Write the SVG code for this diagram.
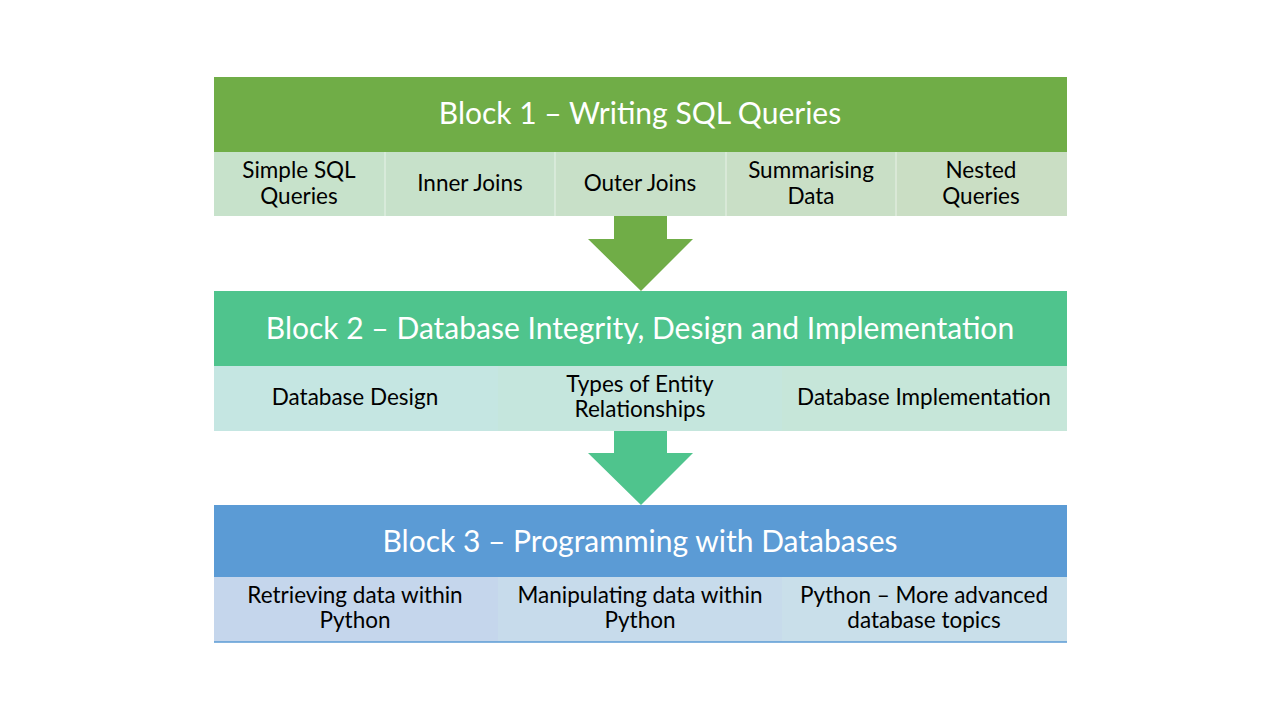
<svg xmlns="http://www.w3.org/2000/svg" width="1280" height="720" viewBox="0 0 1280 720">
<style>
.hd{font-family:Lato,"Open Sans",sans-serif;font-size:30px;fill:#ffffff;text-anchor:middle}
.sb{font-family:Lato,"Open Sans",sans-serif;font-size:22.5px;fill:#000000;text-anchor:middle}
.sep{stroke:#ffffff;stroke-width:1;stroke-opacity:0.6}
</style>
<rect width="1280" height="720" fill="#ffffff"/>
<g id="connectors">
<polygon points="614,216 667,216 667,239 693,239 641,291 588,239 614,239" fill="#70AD47"/>
<polygon points="614,431 667,431 667,453 693,453 641,505 588,453 614,453" fill="#4FC48D"/>
</g>
<g id="block1">
<rect x="214" y="77" width="853" height="75" fill="#70AD47"/>
<text class="hd" x="640" y="124">Block 1 – Writing SQL Queries</text>
</g>
<g id="b1-simple">
<rect x="214" y="152" width="171" height="64" fill="#C7E2CB"/>
<text class="sb" x="299" y="178">Simple SQL</text>
<text class="sb" x="299" y="204">Queries</text>
</g>
<g id="b1-inner">
<rect x="385" y="152" width="170" height="64" fill="#C7E1CA"/>
<text class="sb" x="470" y="191">Inner Joins</text>
</g>
<g id="b1-outer">
<rect x="555" y="152" width="171" height="64" fill="#C8E0C8"/>
<text class="sb" x="640" y="191">Outer Joins</text>
</g>
<g id="b1-summ">
<rect x="726" y="152" width="170" height="64" fill="#C9DFC6"/>
<text class="sb" x="811" y="178">Summarising</text>
<text class="sb" x="811" y="204">Data</text>
</g>
<g id="b1-nested">
<rect x="896" y="152" width="171" height="64" fill="#CADEC4"/>
<text class="sb" x="981" y="178">Nested</text>
<text class="sb" x="981" y="204">Queries</text>
</g>
<g id="block2">
<rect x="214" y="291" width="853" height="75" fill="#4FC48D"/>
<text class="hd" x="640" y="339">Block 2 – Database Integrity, Design and Implementation</text>
</g>
<g id="b2-design">
<rect x="214" y="366" width="284" height="65" fill="#C5E6E2"/>
<text class="sb" x="355" y="405">Database Design</text>
</g>
<g id="b2-types">
<rect x="498" y="366" width="284" height="65" fill="#C5E6DD"/>
<text class="sb" x="640" y="392">Types of Entity</text>
<text class="sb" x="640" y="417">Relationships</text>
</g>
<g id="b2-impl">
<rect x="782" y="366" width="285" height="65" fill="#C6E6D9"/>
<text class="sb" x="924" y="405">Database Implementation</text>
</g>
<g id="block3">
<rect x="214" y="505" width="853" height="72" fill="#5B9BD5"/>
<text class="hd" x="640" y="552">Block 3 – Programming with Databases</text>
</g>
<g id="b3-retr">
<rect x="214" y="577" width="284" height="65" fill="#C5D6EC"/>
<text class="sb" x="355" y="603">Retrieving data within</text>
<text class="sb" x="355" y="628">Python</text>
</g>
<g id="b3-manip">
<rect x="498" y="577" width="284" height="65" fill="#C7DBEB"/>
<text class="sb" x="640" y="603">Manipulating data within</text>
<text class="sb" x="640" y="628">Python</text>
</g>
<g id="b3-adv">
<rect x="782" y="577" width="285" height="65" fill="#C9DFEA"/>
<text class="sb" x="924" y="603">Python – More advanced</text>
<text class="sb" x="924" y="628">database topics</text>
</g>
<g id="separators">
<line class="sep" x1="385" y1="152" x2="385" y2="216"/>
<line class="sep" x1="555" y1="152" x2="555" y2="216"/>
<line class="sep" x1="726" y1="152" x2="726" y2="216"/>
<line class="sep" x1="896" y1="152" x2="896" y2="216"/>
<line x1="214" y1="642" x2="1067" y2="642" stroke="#5B9BD5" stroke-width="1.5"/>
</g>
</svg>
